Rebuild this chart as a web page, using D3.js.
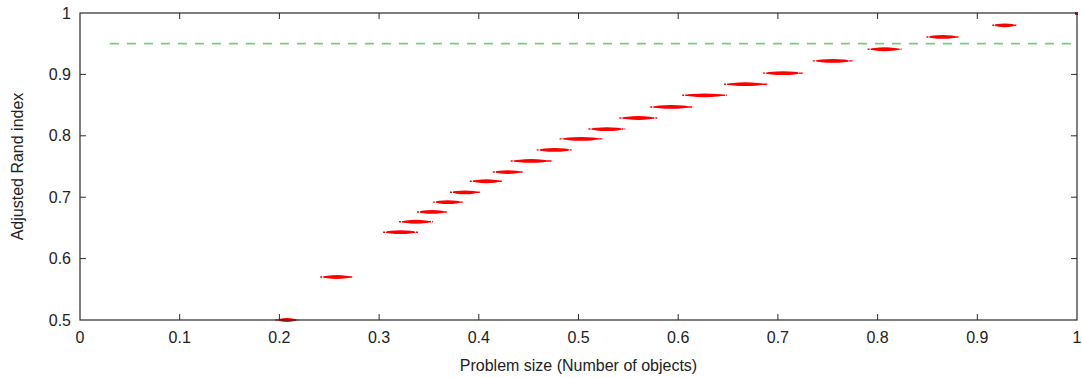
<!DOCTYPE html>
<html>
<head>
<meta charset="utf-8">
<script src="https://cdn.jsdelivr.net/npm/d3@7"></script>
<style>
  body { margin: 0; background: #fff; }
  text { font-family: "Liberation Sans", Arial, sans-serif; font-size: 16px; fill: #222; }
</style>
</head>
<body>
<div id="chart"></div>
<script>
// Adjusted Rand index against problem size: one horizontal smear of runs per size.

const MARGIN = { top: 13, right: 5, bottom: 58, left: 80 };
const WIDTH = 1082;
const HEIGHT = 378;

const xTicks = [0, 0.1, 0.2, 0.3, 0.4, 0.5, 0.6, 0.7, 0.8, 0.9, 1];
const yTicks = [0.5, 0.6, 0.7, 0.8, 0.9, 1];

// one entry per cluster of runs
const clusterY = [0.5, 0.57, 0.643, 0.66, 0.676, 0.692, 0.708, 0.726, 0.741, 0.759, 0.777,
  0.795, 0.811, 0.829, 0.847, 0.866, 0.884, 0.902, 0.922, 0.941, 0.961, 0.98];
const clusterXMin = [0.196, 0.241, 0.304, 0.32, 0.338, 0.354, 0.371, 0.391, 0.414, 0.432, 0.458,
  0.481, 0.51, 0.541, 0.572, 0.604, 0.646, 0.685, 0.735, 0.79, 0.849, 0.915];
const clusterXMax = [0.219, 0.274, 0.339, 0.354, 0.368, 0.384, 0.401, 0.424, 0.444, 0.473, 0.494,
  0.524, 0.547, 0.579, 0.614, 0.649, 0.689, 0.725, 0.775, 0.824, 0.881, 0.94];

const threshold = 0.95;
const thresholdStart = 0.03;
const cornerPoint = [1, 1];

const PALETTE = { frame: "#2a2a2a", red: "#ff0000", green: "#6fd36f" };

const d3 = window.d3;
const x = d3.scaleLinear().domain([0, 1]).range([MARGIN.left, WIDTH - MARGIN.right]);
const y = d3.scaleLinear().domain([0.5, 1]).range([HEIGHT - MARGIN.bottom, MARGIN.top]);

const svg = d3.select("#chart").append("svg")
  .attr("width", WIDTH).attr("height", HEIGHT)
  .style("display", "block");

const clusters = clusterY.map((v, i) => ({ y: v, x0: clusterXMin[i], x1: clusterXMax[i] }));

// threshold line
svg.append("line")
  .attr("x1", x(thresholdStart)).attr("x2", x(1))
  .attr("y1", y(threshold)).attr("y2", y(threshold))
  .attr("stroke", PALETTE.green).attr("stroke-width", 1.7)
  .attr("stroke-dasharray", "9,8");

// clusters: sparse spread plus dense core
const g = svg.append("g");
g.selectAll("line.spread").data(clusters).join("line")
  .attr("class", "spread")
  .attr("x1", (d) => x(d.x0)).attr("x2", (d) => x(d.x1))
  .attr("y1", (d) => y(d.y)).attr("y2", (d) => y(d.y))
  .attr("stroke", PALETTE.red).attr("stroke-width", 1.4)
  .attr("stroke-dasharray", "2,1,7,1");
g.selectAll("ellipse").data(clusters).join("ellipse")
  .attr("cx", (d) => x((d.x0 + d.x1) / 2))
  .attr("cy", (d) => y(d.y))
  .attr("rx", (d) => (x(d.x1) - x(d.x0)) * 0.4)
  .attr("ry", 1.9)
  .attr("fill", PALETTE.red);

g.append("rect")
  .attr("x", x(cornerPoint[0]) - 2).attr("y", y(cornerPoint[1]) - 1)
  .attr("width", 3).attr("height", 3)
  .attr("fill", PALETTE.red);

// frame
svg.append("rect")
  .attr("x", x(0)).attr("y", y(1))
  .attr("width", x(1) - x(0)).attr("height", y(0.5) - y(1))
  .attr("fill", "none").attr("stroke", PALETTE.frame).attr("stroke-width", 1.2);

// ticks, mirrored on all sides, pointing in
const tickLen = 6;
svg.append("g").selectAll("line").data(xTicks.slice(1, -1)).join("line")
  .attr("x1", (d) => x(d)).attr("x2", (d) => x(d))
  .attr("y1", y(0.5)).attr("y2", y(0.5) - tickLen)
  .attr("stroke", PALETTE.frame);
svg.append("g").selectAll("line").data(xTicks.slice(1, -1)).join("line")
  .attr("x1", (d) => x(d)).attr("x2", (d) => x(d))
  .attr("y1", y(1)).attr("y2", y(1) + tickLen)
  .attr("stroke", PALETTE.frame);
svg.append("g").selectAll("line").data(yTicks.slice(1, -1)).join("line")
  .attr("x1", x(0)).attr("x2", x(0) + tickLen)
  .attr("y1", (d) => y(d)).attr("y2", (d) => y(d))
  .attr("stroke", PALETTE.frame);
svg.append("g").selectAll("line").data(yTicks.slice(1, -1)).join("line")
  .attr("x1", x(1)).attr("x2", x(1) - tickLen)
  .attr("y1", (d) => y(d)).attr("y2", (d) => y(d))
  .attr("stroke", PALETTE.frame);

// tick labels
svg.append("g").selectAll("text").data(xTicks).join("text")
  .attr("x", (d) => x(d)).attr("y", y(0.5) + 23)
  .attr("text-anchor", "middle")
  .text((d) => d3.format("~g")(d));
svg.append("g").selectAll("text").data(yTicks).join("text")
  .attr("x", x(0) - 9).attr("y", (d) => y(d) + 5.5)
  .attr("text-anchor", "end")
  .text((d) => d3.format("~g")(d));

// axis titles
svg.append("text")
  .attr("x", (x(0) + x(1)) / 2).attr("y", HEIGHT - 7)
  .attr("text-anchor", "middle")
  .text("Problem size (Number of objects)");
svg.append("text")
  .attr("transform", `translate(23,${(y(0.5) + y(1)) / 2}) rotate(-90)`)
  .attr("text-anchor", "middle")
  .text("Adjusted Rand index");
</script>
</body>
</html>
